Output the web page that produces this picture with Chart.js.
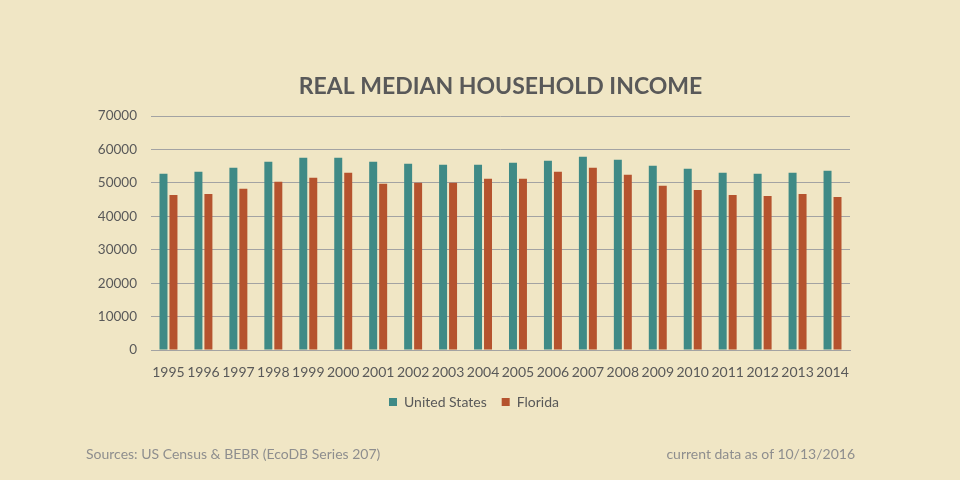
<!DOCTYPE html>
<html>
<head>
<meta charset="utf-8">
<script src="https://cdn.jsdelivr.net/npm/chart.js@4/dist/chart.umd.min.js"></script>
<style>
  html, body { margin: 0; padding: 0; background: #F0E6C5; }
  #wrap { position: relative; width: 960px; height: 480px; }
  .note { position: absolute; top: 445px; font-family: Lato, "Open Sans", sans-serif; font-size: 14px; color: #8E8E8E; }
  #src { left: 86px; }
  #asof { right: 105px; }
</style>
</head>
<body>
<div id="wrap">
  <canvas id="incomeChart" width="960" height="480"></canvas>
  <div class="note" id="src">Sources: US Census &amp; BEBR (EcoDB Series 207)</div>
  <div class="note" id="asof">current data as of 10/13/2016</div>
</div>
<script>
// Chart data
const years = ['1995', '1996', '1997', '1998', '1999', '2000', '2001', '2002', '2003', '2004',
               '2005', '2006', '2007', '2008', '2009', '2010', '2011', '2012', '2013', '2014'];
const unitedStates = [52700, 53300, 54500, 56300, 57500, 57500, 56300, 55700, 55400, 55400,
                      56000, 56600, 57800, 56900, 55100, 54200, 53000, 52700, 53000, 53600];
const florida = [46400, 46700, 48200, 50300, 51500, 53000, 49700, 50000, 50000, 51200,
                 51200, 53300, 54500, 52400, 49100, 47900, 46400, 46100, 46700, 45800];

const FONT = 'Lato, "Open Sans", sans-serif';
const TEXT_GREY = '#595959';
const GRID_GREY = '#A3A3A3';

const ctx = document.getElementById('incomeChart').getContext('2d');
new Chart(ctx, {
    type: 'bar',
    data: {
        labels: years,
        datasets: [
            {
                label: 'United States',
                data: unitedStates,
                backgroundColor: '#3F8A86',
                categoryPercentage: 0.571,
                barPercentage: 0.8
            },
            {
                label: 'Florida',
                data: florida,
                backgroundColor: '#B5532E',
                categoryPercentage: 0.571,
                barPercentage: 0.8
            }
        ]
    },
    options: {
        responsive: false,
        animation: false,
        layout: { padding: { left: 98, right: 110, top: 0, bottom: 61 } },
        plugins: {
            title: {
                display: true,
                fullSize: false, // centre over the plot area, like the original
                text: 'REAL MEDIAN HOUSEHOLD INCOME',
                color: TEXT_GREY,
                font: { family: FONT, size: 23, weight: 'bold' },
                padding: { top: 73.2, bottom: 15.2 }
            },
            legend: {
                position: 'bottom',
                labels: {
                    color: TEXT_GREY,
                    font: { family: FONT, size: 14 },
                    boxWidth: 8,
                    boxHeight: 8,
                    padding: 15
                }
            },
            tooltip: { enabled: false }
        },
        scales: {
            x: {
                grid: { display: false, drawTicks: false },
                border: { color: GRID_GREY, width: 1 },
                ticks: {
                    color: TEXT_GREY,
                    font: { family: FONT, size: 14 },
                    autoSkip: false,
                    maxRotation: 0,
                    padding: 13.6
                },
                afterFit: function(scale) { scale.height = 30; }
            },
            y: {
                min: 0,
                max: 70000,
                grid: { color: GRID_GREY, drawTicks: false },
                border: { display: false },
                ticks: {
                    stepSize: 10000,
                    color: TEXT_GREY,
                    font: { family: FONT, size: 13.5 },
                    padding: 14,
                    callback: function(value) { return String(value); }
                },
                afterFit: function(scale) { scale.width = 53; }
            }
        }
    }
});
</script>
</body>
</html>
